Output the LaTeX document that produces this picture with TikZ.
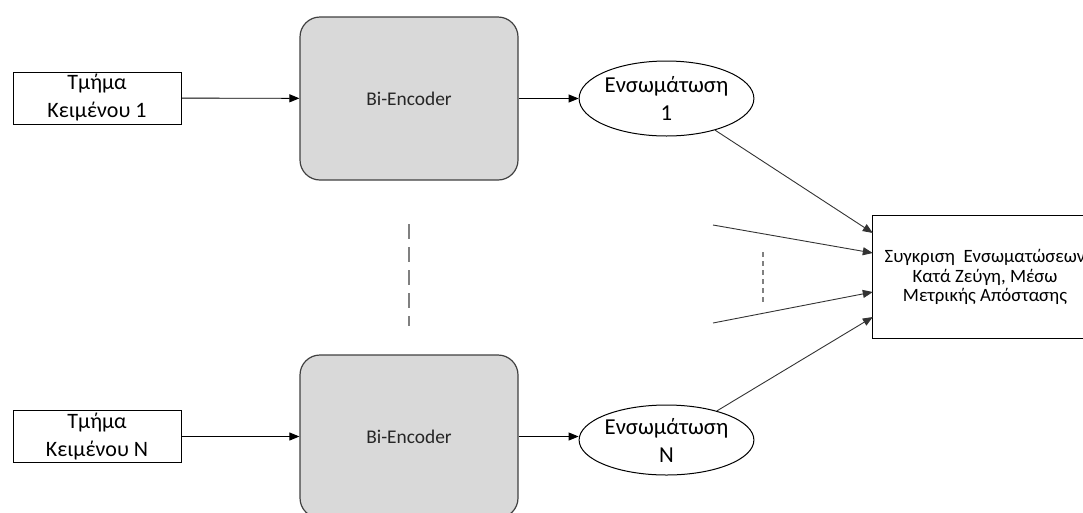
\documentclass[tikz,border=0pt]{standalone}
\usepackage{fontspec}
\setmainfont{Carlito}
\usetikzlibrary{shapes.geometric,arrows.meta,calc}

\definecolor{encfill}{HTML}{D9D9D9}
\definecolor{encline}{HTML}{404040}
\definecolor{enctext}{HTML}{262626}
\definecolor{dashgray}{HTML}{808080}

\tikzset{
  segbox/.style={draw=black, line width=1pt, minimum width=168pt, minimum height=52pt,
    align=center, inner sep=0pt, font=\fontsize{22}{28}\selectfont},
  encbox/.style={draw=encline, fill=encfill, line width=1.2pt, rounded corners=20pt,
    minimum width=218pt, minimum height=163pt, inner sep=0pt,
    text=enctext, font=\fontsize{19.4}{22}\selectfont},
  embnode/.style={ellipse, draw=black, line width=1pt, minimum width=169pt,
    inner sep=0pt, align=center, font=\fontsize{22.8}{28}\selectfont},
  cmpbox/.style={minimum width=224pt, minimum height=123pt,
    align=center, inner sep=0pt, font=\fontsize{18.8}{19.5}\selectfont},
  flow/.style={-{Triangle[length=10pt,width=8pt]}, line width=0.9pt, draw=black},
  feed/.style={-{Triangle[length=10pt,width=8pt]}, line width=0.9pt, draw=black!80},
  gapmark/.style={draw=dashgray, line width=1.4pt},
}

\begin{document}
\begin{tikzpicture}[x=1pt,y=-1pt]
  \useasboundingbox (0,0) rectangle (1083,512);
  \clip (0,0) rectangle (1083,512);

  % input text segments
  \node[segbox] (t1) at (97,98) {Τμήμα\\Κειμένου 1};
  \node[segbox] (tN) at (97,436.5) {Τμήμα\\Κειμένου N};

  % encoders
  \node[encbox] (b1) at (409,98.5) {Bi-Encoder};
  \node[encbox] (bN) at (409,436.5) {Bi-Encoder};

  % embeddings
  \node[embnode, minimum height=75pt] (m1) at (666.5,98.5) {Ενσωμάτωση\\1};
  \node[embnode, minimum height=70pt] (mN) at (666.5,440) {Ενσωμάτωση\\N};

  % pairwise comparison (frame runs past the right edge)
  \node[cmpbox] (c) at (985,277) {Συγκριση~~Ενσωματώσεων\\Κατά Ζεύγη, Μέσω\\Μετρικής Απόστασης};
  \draw[line width=1pt] ($(c.north east)+(40,0)$) -- (c.north west) -- (c.south west) -- ($(c.south east)+(40,0)$);

  % free ends of the intermediate embeddings
  \coordinate (u) at (713,225);
  \coordinate (l) at (713,323);

  \draw[flow] (t1) -- (b1);
  \draw[flow] (tN) -- (bN);
  \draw[flow] (b1) -- (m1);
  \draw[flow] (bN.east) -- (bN.east -| mN.west);

  \draw[feed] (m1) -- ($(c.west)+(0,-44)$);
  \draw[feed] (u) -- ($(c.west)+(0,-24)$);
  \draw[feed] (l) -- ($(c.west)+(0,15)$);
  \draw[feed] (mN.30) -- ($(c.west)+(0,40)$);

  % ellipsis marks for the omitted segments
  \draw[gapmark, dash pattern=on 15pt off 8pt] (409,224) -- (409,326);
  \draw[gapmark, line width=1.1pt, dash pattern=on 5pt off 4pt] (763,252) -- (763,302);
\end{tikzpicture}
\end{document}
